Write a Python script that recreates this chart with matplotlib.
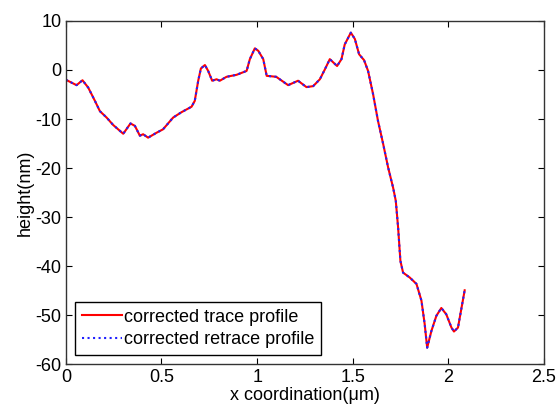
import matplotlib.pyplot as plt

plt.rcParams['font.family'] = ['Liberation Sans', 'DejaVu Sans']
plt.rcParams['axes.unicode_minus'] = False

# profile (x in um, height in nm)
x_um = [0.000, 0.056, 0.087, 0.117, 0.152, 0.178, 0.213, 0.247, 0.300, 0.338,
        0.361, 0.387, 0.404, 0.430, 0.474, 0.508, 0.561, 0.605, 0.657, 0.674,
        0.692, 0.706, 0.727, 0.744, 0.765, 0.788, 0.805, 0.840, 0.892, 0.945,
        0.962, 0.988, 1.006, 1.032, 1.050, 1.100, 1.162, 1.214, 1.258, 1.293,
        1.328, 1.354, 1.380, 1.418, 1.441, 1.458, 1.490, 1.511, 1.533, 1.559,
        1.580, 1.606, 1.632, 1.659, 1.685, 1.711, 1.725, 1.737, 1.749, 1.763,
        1.798, 1.833, 1.859, 1.876, 1.889, 1.911, 1.937, 1.963, 1.989, 2.016,
        2.029, 2.050, 2.085]
trace_nm = [-2.0, -3.1, -2.1, -3.6, -6.3, -8.4, -9.7, -11.2, -13.0, -10.9,
            -11.4, -13.4, -13.1, -13.8, -12.8, -12.1, -9.7, -8.6, -7.5, -6.3,
            -2.2, 0.3, 1.0, -0.2, -2.2, -1.9, -2.2, -1.4, -1.0, -0.2,
            2.2, 4.4, 3.9, 2.2, -1.2, -1.4, -3.1, -2.2, -3.5, -3.3,
            -1.9, 0.1, 2.2, 0.8, 2.2, 5.2, 7.6, 6.3, 3.2, 2.0,
            -0.2, -4.9, -10.4, -15.1, -19.9, -24.0, -26.7, -32.1, -38.9, -41.3,
            -42.3, -43.6, -47.0, -51.8, -56.6, -53.2, -50.1, -48.5, -49.8, -52.5,
            -53.3, -52.5, -44.9]
retrace_nm = list(trace_nm)

fig = plt.figure(figsize=(5.58, 4.09), dpi=100)
ax = fig.add_axes([0.118, 0.109, 0.857, 0.84])

ax.plot(x_um, trace_nm, color='red', lw=1.5, label='corrected trace profile')
ax.plot(x_um, retrace_nm, color='#2020ff', lw=1.5, ls=':', label='corrected retrace profile')

ax.set_xlim(0, 2.5)
ax.set_ylim(-60, 10)
ax.set_xticks([0, 0.5, 1, 1.5, 2, 2.5])
ax.set_xticklabels(['0', '0.5', '1', '1.5', '2', '2.5'])
ax.set_yticks(range(-60, 11, 10))
ax.tick_params(direction='in', top=True, right=True, labelsize=13, length=4, pad=3)
for s in ax.spines.values():
    s.set_linewidth(1.0)
    s.set_color('#333333')

ax.set_xlabel('x coordination(\u03bcm)', fontsize=13, labelpad=1)
ax.set_ylabel('height(nm)', fontsize=13, labelpad=1)

leg = ax.legend(loc='lower left', fontsize=13, fancybox=False, framealpha=1,
                edgecolor='black', handlelength=2.2, handletextpad=0.1,
                borderaxespad=0.5, borderpad=0.4, labelspacing=0.3)
leg.get_frame().set_linewidth(1.0)

fig.savefig('out.png', dpi=100)
